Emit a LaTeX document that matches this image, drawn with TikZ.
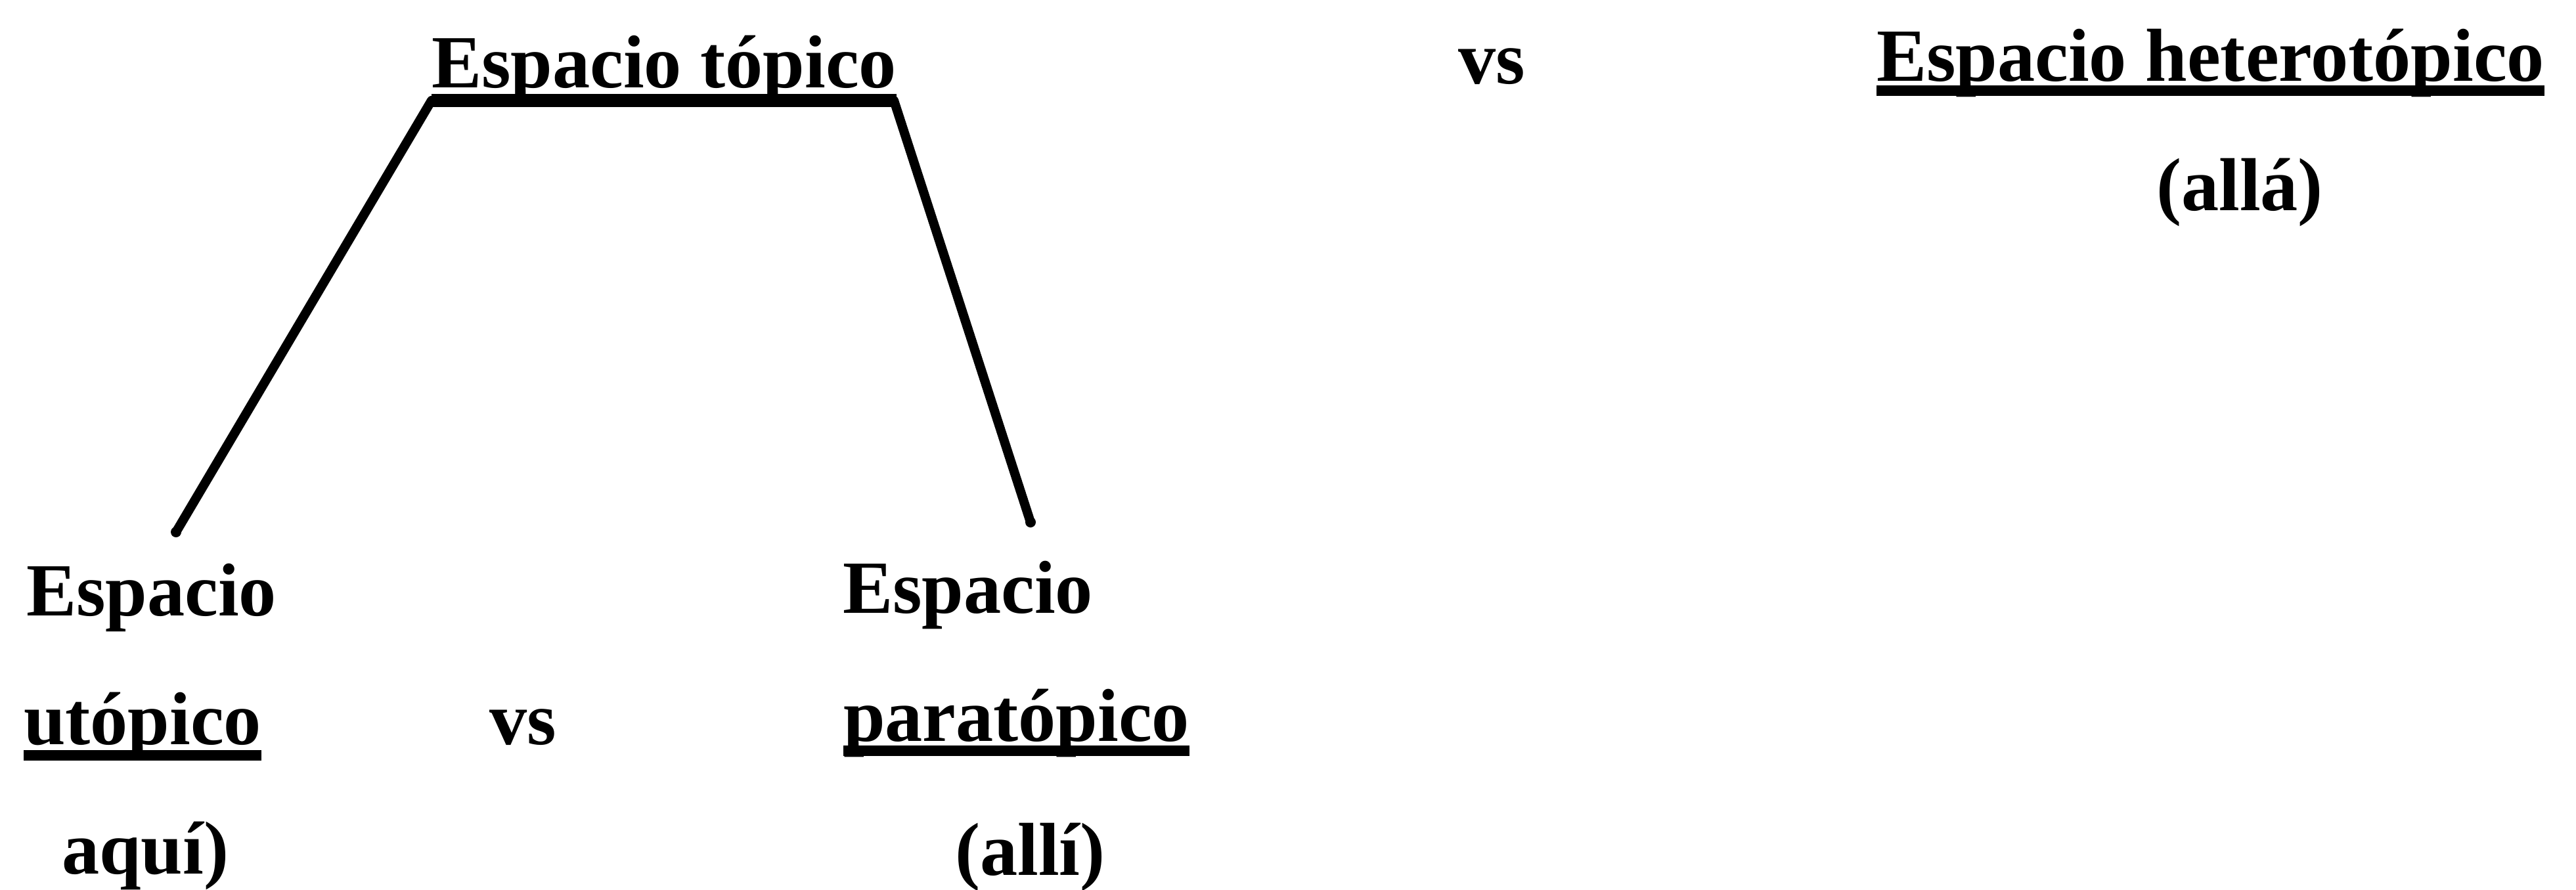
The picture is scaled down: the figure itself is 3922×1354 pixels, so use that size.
\documentclass[tikz,border=0pt]{standalone}
\usepackage{fontspec}
\setmainfont{Liberation Serif}
\begin{document}
\begin{tikzpicture}[x=0.01cm,y=-0.01cm,
  lbl/.style={inner sep=0pt, outer sep=0pt, anchor=base west,
    font=\fontsize{32.5}{39}\selectfont\bfseries},
  uline/.style={line width=4.8pt},
  topbar/.style={line width=5.6pt},
  limb/.style={line width=4pt, line cap=round},
  tip/.style={fill=black, draw=none}]
\useasboundingbox[fill=white] (0,0) rectangle (3922,1354);

% top row
\node[lbl] (top)  at (657,133)  {Espacio tópico};
\node[lbl] (vs1)  at (2220,127) {vs};
\node[lbl] (het)  at (2857,123) {Espacio heterotópico};
\node[lbl] (alla) at (3283,320) {(allá)};

% bottom left column
\node[lbl] (esp1) at (40,937)   {Espacio};
\node[lbl] (uto)  at (36,1133)  {utópico};
\node[lbl] (aqui) at (94,1330)  {aquí)};

\node[lbl] (vs2)  at (745,1133) {vs};

% bottom right column
\node[lbl] (esp2) at (1283,933)  {Espacio};
\node[lbl] (para) at (1284,1128) {paratópico};
\node[lbl] (alli) at (1454,1332) {(allí)};

% underlines
\draw[topbar] ([yshift=-0.2cm]top.base west) coordinate (barL)
           -- ([yshift=-0.2cm]top.base east) coordinate (barR);
\draw[uline] ([yshift=-0.15cm]het.base west) -- ([yshift=-0.15cm]het.base east);
\draw[uline] ([yshift=-0.17cm]uto.base west) -- ([yshift=-0.17cm]uto.base east);
\draw[uline] ([yshift=-0.15cm]para.base west) -- ([yshift=-0.15cm]para.base east);

% branches from the top bar
\coordinate (lend) at (268,810);
\coordinate (rend) at (1569,795);
\draw[limb] (barL) -- (lend);
\draw[limb] ([xshift=-0.04cm]barR) -- (rend);
\fill[tip] (lend) circle (8);
\fill[tip] (rend) circle (8);
\end{tikzpicture}
\end{document}
